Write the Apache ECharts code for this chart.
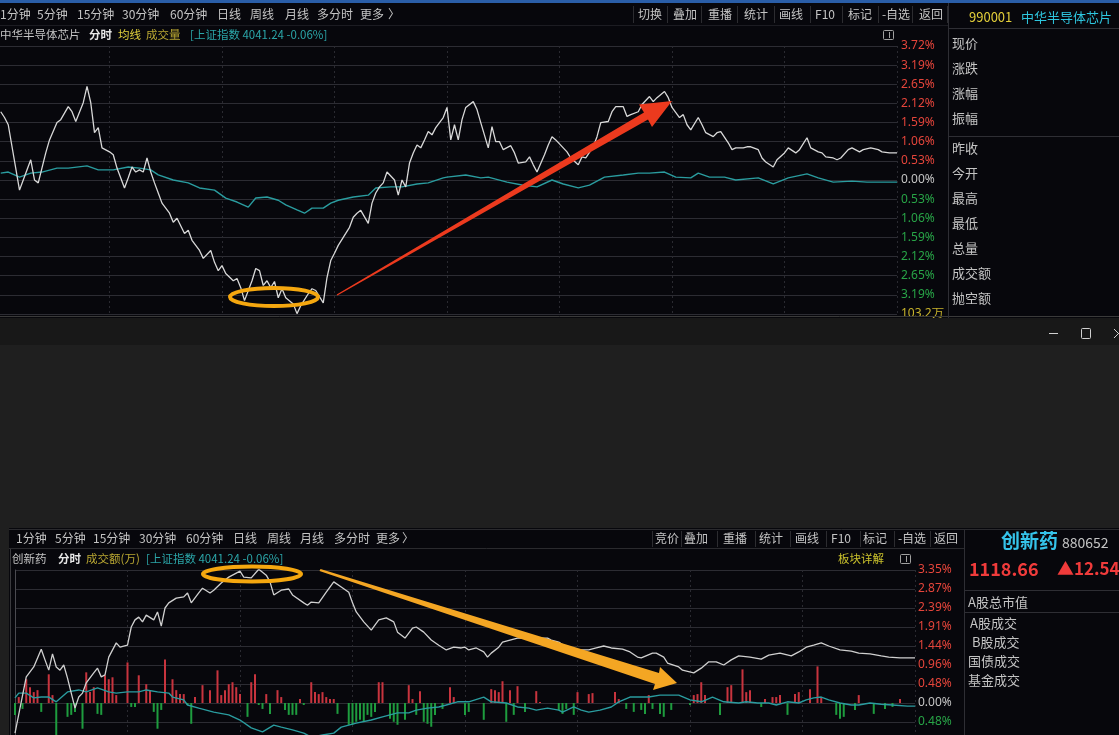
<!DOCTYPE html>
<html>
<head>
<meta charset="utf-8">
<title>分时走势</title>
<script src="https://cdn.jsdelivr.net/npm/echarts@6/dist/echarts.min.js"></script>
<style>
  html, body { margin: 0; padding: 0; background: #1e1e1e; }
  #main { width: 1119px; height: 735px; }
</style>
</head>
<body>
<div id="main"></div>
<script>
// 上图：中华半导体芯片 分时（分钟序号, 涨跌幅 %）
const topMin = [1,2,3,6,7,9,10,11,13,14, 16,17,19,20,21,23,24,25,26,27, 28,30,31,32,34,35,36,37,38,39,
  40,41,42,43,44,46,47,48,50,51, 52,54,55,57,58,59,60,61,63,64, 65,66,68,69,70,71,72,73,74,75,
  76,77,79,80,81,83,84,85,87,88, 89,90,91,93,94,95,96,97,99,100, 101,102,103,104,106,107,108,109,110,111,
  112,113,114,115,116,117,119,120,121,122, 123,124,125,127,128,129,131,132,133,134, 135,137,138,139,141,142,143,144,146,147,
  148,149,151,152,153,155,156,157,159,160, 161,163,164,165,167,168,169,171,172,174, 175,176,178,179,180,182,183,184,185,187,
  188,189,191,192,193,195,196,197,199,200, 201,203,204,205,207,208,210,211,213,214, 216,217,219,220,221,223,224,225,227,228,
  230,231,233,235,236,238,240];
const topPct = [1.89,1.73,1.53,-0.28,0.00,0.56,0.00,-0.08,0.75,1.11, 1.59,1.67,2.03,1.89,1.62,2.14,2.59,2.14,1.31,1.45,
  0.89,0.78,0.70,0.33,-0.22,0.06,0.36,0.22,0.28,0.22, 0.61,0.22,-0.08,-0.36,-0.64,-0.92,-1.17,-1.06,-1.48,-1.39,
  -1.67,-1.95,-2.17,-1.95,-2.28,-2.51,-2.37,-2.59,-2.79,-2.73, -2.98,-3.34,-2.79,-2.45,-2.51,-2.92,-2.79,-2.98,-2.81,-3.26,
  -3.01,-3.26,-3.43,-3.70,-3.48,-3.15,-3.01,-3.06,-3.40,-2.70, -2.23,-2.03,-1.81,-1.48,-1.31,-1.03,-0.92,-0.84,-1.20,-0.64,
  -0.36,-0.19,-0.08,0.22,0.00,-0.42,0.00,-0.19,0.47,0.75, 0.97,0.89,1.11,1.34,1.25,1.45,1.73,2.01,1.11,1.53,
  1.11,1.67,2.01,2.17,1.95,1.59,0.89,1.48,1.06,1.06, 0.84,0.95,0.75,0.47,0.50,0.64,0.42,0.22,0.70,0.97,
  1.20,1.11,0.89,0.78,0.61,0.42,0.64,0.61,0.92,1.20, 1.59,1.62,1.89,2.03,2.03,1.76,1.81,1.89,2.09,2.31,
  2.17,2.28,2.45,2.28,2.01,1.73,1.81,1.53,1.39,1.73, 1.53,1.31,1.20,1.31,1.34,1.03,0.84,0.89,0.89,0.92,
  0.92,0.84,0.61,0.50,0.36,0.56,0.75,0.89,0.75,0.84, 1.17,0.89,0.78,0.75,0.64,0.61,0.56,0.61,0.84,0.89,
  0.78,0.84,0.89,0.84,0.78,0.75,0.75];
const topAvgMin = [1,3,6,9,12,16,19,24,27,31, 35,38,41,43,47,51,54,58,61,64, 67,69,72,75,77,80,82,84,87,89,
  91,95,99,101,105,108,112,115,119,120, 125,129,131,136,140,144,148,151,155,158, 162,167,171,174,178,181,185,187,190,194,
  197,203,207,211,216,219,223,228,232,236, 240];
const topAvgPct = [0.19,0.22,0.08,0.19,0.22,0.33,0.33,0.39,0.28,0.28, 0.36,0.33,0.28,0.14,0.00,-0.08,-0.22,-0.28,-0.50,-0.61,
  -0.75,-0.50,-0.47,-0.56,-0.69,-0.83,-0.92,-0.78,-0.78,-0.64, -0.56,-0.47,-0.42,-0.22,-0.19,-0.19,-0.11,-0.08,0.06,0.08,
  0.14,0.06,0.08,-0.06,-0.14,-0.19,0.00,-0.11,-0.22,-0.14, 0.08,0.14,0.19,0.19,0.22,0.08,0.06,0.19,0.08,0.08,
  0.00,0.06,-0.11,0.06,0.17,0.06,-0.06,-0.03,-0.06,-0.06, -0.06];
// 右侧刻度（从下往上）
const topTicks = ['103.2万','3.19%','2.65%','2.12%','1.59%','1.06%','0.53%','0.00%','0.53%','1.06%','1.59%','2.12%','2.65%','3.19%','3.72%'];

// 下图：创新药 分时
const botMin = [0,3,5,7,8,9,10,11,12,13, 14,15,16,17,18,19,21,22,23,24, 25,27,28,30,31,32,33,34,35,37,
  38,39,40,41,43,45,46,47,49,50, 52,53,55,57,58,60,61,63,65,67, 68,69,71,73,74,77,78,79,81,83,
  85,87,89,90,91,93,95,97,99,101, 102,104,106,107,109,111,113,115,117,119, 120,121,123,125,126,127,129,130,132,134,
  136,138,139,142,143,145,147,150,153,155, 157,159,162,164,166,167,170,171,173,174, 177,178,181,183,185,187,189,191,193,196,
  199,201,204,207,209,211,213,215,217,220, 223,225,228,231,233,236,240];
const botPct = [-0.76,0.66,0.91,1.36,1.09,0.83,1.24,0.91,0.83,0.96, 0.63,0.25,-0.13,0.15,0.25,0.51,0.76,0.88,0.66,0.71,
  1.16,1.52,1.41,1.46,1.92,2.10,2.17,2.05,2.22,2.10, 2.30,1.94,2.40,2.53,2.65,2.68,2.78,2.53,2.78,2.90,
  2.78,2.85,3.03,3.18,3.23,3.33,3.18,3.16,3.38,3.23, 3.06,2.73,2.85,2.88,2.73,2.53,2.47,2.55,2.53,2.80,
  3.06,2.93,2.80,2.53,2.30,2.05,1.84,2.10,2.15,2.05, 1.79,1.64,1.89,1.92,1.79,1.59,1.46,1.34,1.41,1.39,
  1.41,1.34,1.39,1.29,1.16,1.26,1.41,1.54,1.59,1.64, 1.64,1.67,1.64,1.64,1.59,1.54,1.41,1.34,1.34,1.39,
  1.44,1.39,1.36,1.29,1.16,1.14,1.26,1.26,1.16,1.01, 0.91,0.83,0.76,0.88,1.04,1.04,0.96,1.09,1.19,1.16,
  1.11,1.21,1.26,1.19,1.29,1.41,1.46,1.52,1.44,1.34, 1.31,1.26,1.24,1.19,1.16,1.14,1.14];
const botAvgMin = [0,1,3,5,7,9,11,14,17,19, 22,25,27,30,33,35,38,41,42,45, 46,49,53,57,60,63,66,69,71,74,
  77,79,82,85,87,91,95,98,102,105, 107,110,113,115,118,121,125,127,131,134, 137,139,142,145,146,149,151,153,156,159,
  161,164,167,169,172,175,177,180,183,186, 189,193,195,198,201,203,206,209,211,213, 215,217,220,223,225,228,231,234,238,240];
const botAvgPct = [0.13,0.25,0.25,0.13,0.15,0.15,0.03,0.28,0.33,0.28, 0.38,0.28,0.25,0.28,0.28,0.33,0.28,0.25,0.15,0.08,
  -0.05,-0.13,-0.23,-0.30,-0.43,-0.63,-0.73,-0.56,-0.61,-0.68, -0.76,-0.86,-0.81,-0.76,-0.61,-0.51,-0.43,-0.35,-0.25,-0.25,
  -0.18,-0.13,-0.10,-0.05,0.03,0.03,0.15,0.03,0.00,-0.10, -0.13,-0.18,-0.13,-0.18,-0.23,-0.10,-0.18,-0.23,-0.18,-0.10,
  0.03,0.15,0.15,0.15,0.20,0.20,0.20,0.08,0.03,0.15, 0.03,0.00,0.03,0.00,0.00,-0.05,0.03,0.00,0.08,0.13,
  0.15,0.08,0.00,-0.05,-0.05,0.00,-0.03,-0.05,-0.08,-0.08];
const botTicks = ['0.96%','0.48%','0.00%','0.48%','0.96%','1.44%','1.91%','2.39%','2.87%','3.35%'];

// 成交额(万)：红柱(正) / 绿柱(负)
const upMin = [1,3,4,5,6,9,10,19,20,21, 24,25,26,27,30,33,35,36,40,42, 43,44,45,48,50,52,54,55,56,57,
  58,59,60,63,64,67,70,71,76,79, 80,81,82,83,84,85,97,98,105,106, 108,116,117,127,128,129,130,132,134,139,
  140,150,153,154,160,161,169,181,182,183, 184,190,191,194,195,196,200,202,203,204, 208,209,212,214,215,225,236];
const upAmt = [150,600,400,275,325,725,200,775,275,400, 700,600,650,200,1025,700,475,325,1100,600,
  325,225,225,150,450,325,825,200,325,475, 525,400,225,525,725,225,325,150,100,525,
  275,225,275,150,100,100,525,525,450,100, 300,400,150,350,325,275,550,325,425,300,
  25,275,225,250,275,100,200,200,225,525, 200,400,450,850,275,325,100,150,150,200, 225,275,350,925,150,200,100];
const downMin = [0,2,7,11,14,15,16,18,22,23, 31,32,37,38,39,46,47,62,65,66, 68,72,73,74,75,77,86,89,90,91,
  92,93,94,95,96,100,101,102,104,107, 109,110,111,112,114,120,121,125,131,133, 136,145,146,147,149,163,165,167,168,170,
  172,173,175,180,188,199,206,219,220,221, 224,229,232,234];
const downAmt = [-300,-150,-225,-875,-350,-300,-225,-650,-275,-300, -100,-100,-225,-650,-175,-50,-525,-350,-50,-150,
  -275,-175,-300,-300,-300,-50,-275,-550,-550,-475, -425,-475,-300,-350,-225,-400,-475,-550,-425,-300,
  -475,-525,-600,-300,-150,-300,-225,-425,-475,-300, -225,-175,-275,-150,-300,-150,-225,-175,-275,-150,
  -275,-350,-175,-50,-300,-100,-300,-300,-400,-350, -175,-275,-150,-100];

const FONT = '"Noto Sans CJK SC", "Noto Sans", sans-serif';
const RED = '#e5453b', GREEN = '#28a447', GREY = '#c4c4c4', YEL = '#c9b42c', TEAL = '#2ba5a8';
const pair = (xs, ys) => xs.map((x, i) => [x, ys[i]]);

// ---------- 界面元素 ----------
const g = [];
function txt(x, y, s, color, size, bold, align) {
  g.push({
    type: 'text', x: x, y: y, z: 50, silent: true,
    style: {
      text: s, fill: color, font: (bold ? 'bold ' : '') + size + 'px ' + FONT,
      align: align || 'left', textAlign: align || 'left',
      verticalAlign: 'middle', textVerticalAlign: 'middle'
    }
  });
}
function rect(x, y, w, h, fill, z) {
  g.push({ type: 'rect', z: z || 10, silent: true, shape: { x: x, y: y, width: w, height: h }, style: { fill: fill } });
}
function line(x1, y1, x2, y2, color, w, z) {
  g.push({ type: 'line', z: z || 20, silent: true, shape: { x1: x1, y1: y1, x2: x2, y2: y2 }, style: { stroke: color, lineWidth: w || 1 } });
}
function box(x, y, w, h, color) {
  g.push({ type: 'rect', z: 20, silent: true, shape: { x: x, y: y, width: w, height: h, r: 1 }, style: { fill: 'none', stroke: color, lineWidth: 1 } });
}

// 中间灰色区域 + 窗口标题栏
rect(0, 318, 1119, 210, '#1f1f1f');
rect(0, 318, 1119, 27, '#181818');
rect(0, 528, 9, 207, '#1f1f1f');
line(0, 316.5, 1119, 316.5, '#3a3a3a', 1);
line(1049, 333.5, 1058, 333.5, '#d0d0d0', 1);
box(1081.5, 328.5, 9, 10, '#d0d0d0');
line(1114, 329, 1119, 334, '#d0d0d0', 1);
line(1114, 338, 1119, 333, '#d0d0d0', 1);

// 上面板
rect(0, 0, 1119, 3, '#2a5ea8');
line(0, 25.5, 948, 25.5, '#1c1c22', 1);
line(948.5, 3, 948.5, 318, '#2e2e34', 1);
line(948, 28.5, 1119, 28.5, '#2e2e34', 1);
line(948, 136.5, 1119, 136.5, '#2e2e34', 1);
[['1分钟', 0], ['5分钟', 37], ['15分钟', 77], ['30分钟', 122], ['60分钟', 170], ['日线', 217], ['周线', 250],
 ['月线', 285], ['多分时', 317], ['更多', 360], ['〉', 388]].forEach(t => txt(t[1], 14, t[0], GREY, 12));
[633, 667, 701, 737, 774, 810, 842, 878, 912, 947].forEach(x => line(x + 0.5, 6, x + 0.5, 23, '#2c2c30', 1));
[['切换', 650], ['叠加', 685], ['重播', 720], ['统计', 756], ['画线', 791], ['F10', 825], ['标记', 860], ['-自选', 896], ['返回', 931]]
  .forEach(t => txt(t[1], 14, t[0], GREY, 12, false, 'center'));
txt(969, 17, '990001', '#e3cf3a', 13);
txt(1021, 17, '中华半导体芯片', '#2ec6df', 13);
txt(0, 35, '中华半导体芯片', GREY, 11.5);
txt(89, 35, '分时', '#e6e6e6', 11.5, true);
txt(118, 35, '均线', '#e2d23c', 11.5);
txt(146, 35, '成交量', '#b9a732', 11.5);
txt(190, 35, '[上证指数 4041.24 -0.06%]', TEAL, 11.5);
box(883.5, 30.5, 10, 9, '#a0a0a0');
line(889.5, 32, 889.5, 38, '#a0a0a0', 1);
[['现价', 43], ['涨跌', 68], ['涨幅', 93], ['振幅', 118], ['昨收', 148], ['今开', 173], ['最高', 198],
 ['最低', 223], ['总量', 248], ['成交额', 273], ['抛空额', 298]].forEach(t => txt(952, t[1], t[0], GREY, 13));

// 下面板
line(9, 529.5, 1119, 529.5, '#2a2a2e', 1);
line(9, 548.5, 964, 548.5, '#2a2a2e', 1);
line(10.5, 549, 10.5, 735, '#3a3a3e', 1);
line(964.5, 530, 964.5, 735, '#2e2e34', 1);
line(965, 590.5, 1119, 590.5, '#2e2e34', 1);
line(965, 612.5, 1119, 612.5, '#2e2e34', 1);
[['1分钟', 16], ['5分钟', 55], ['15分钟', 93], ['30分钟', 139], ['60分钟', 186], ['日线', 233], ['周线', 267],
 ['月线', 300], ['多分时', 334], ['更多', 376], ['〉', 402]].forEach(t => txt(t[1], 538, t[0], GREY, 12));
[652, 681, 717, 755, 790, 826, 860, 894, 930].forEach(x => line(x + 0.5, 531, x + 0.5, 547, '#2c2c30', 1));
[['竞价', 667], ['叠加', 696], ['重播', 735], ['统计', 771], ['画线', 807], ['F10', 841], ['标记', 875], ['-自选', 912], ['返回', 946]]
  .forEach(t => txt(t[1], 538, t[0], GREY, 12, false, 'center'));
txt(1001, 541, '创新药', '#35c3e9', 19, true);
txt(1062, 543, '880652', GREY, 14);
txt(12, 559, '创新药', GREY, 11.5);
txt(58, 559, '分时', '#e6e6e6', 11.5, true);
txt(86, 559, '成交额(万)', '#b9a732', 11.5);
txt(146, 559, '[上证指数 4041.24 -0.06%]', TEAL, 11.5);
txt(838, 559, '板块详解', '#c9c02c', 11.5);
box(900.5, 554.5, 10, 9, '#a0a0a0');
line(906.5, 556, 906.5, 562, '#a0a0a0', 1);
txt(969, 569, '1118.66', '#f03b3b', 18, true);
txt(1057, 569, '▲12.54', '#f03b3b', 17, true);
txt(968, 602, 'A股总市值', GREY, 13);
txt(970, 623, 'A股成交', GREY, 13);
txt(972, 642, 'B股成交', GREY, 13);
txt(968, 661, '国债成交', GREY, 13);
txt(968, 680, '基金成交', GREY, 13);

// 标注：椭圆与箭头
g.push({ type: 'ellipse', z: 100, silent: true, shape: { cx: 274, cy: 297, rx: 44, ry: 9 },
  style: { fill: 'none', stroke: '#f5a70f', lineWidth: 4 } });
g.push({ type: 'ellipse', z: 100, silent: true, shape: { cx: 252, cy: 574, rx: 49, ry: 7.5 },
  style: { fill: 'none', stroke: '#f5a70f', lineWidth: 4 } });
g.push({ type: 'polygon', z: 100, silent: true,
  shape: { points: [[337.3, 295.4], [648, 119.5], [652, 127], [672, 101], [639, 104.5], [644, 112.5], [336.7, 294.6]] },
  style: { fill: '#ec3a1e' } });
g.push({ type: 'polygon', z: 100, silent: true,
  shape: { points: [[319.5, 571], [655, 684], [653, 690], [677, 683], [660, 667], [659, 673], [320.5, 569]] },
  style: { fill: '#f4a623' } });

// ---------- 图表 ----------
const chart = echarts.init(document.getElementById('main'));
const splitH = { show: true, lineStyle: { color: '#2c2c33', width: 1 } };
const splitV = { show: true, lineStyle: { color: '#2a2a31', width: 1, type: [2, 3] } };
const topCls = i => (i === 0 ? 'y' : i < 7 ? 'g' : i === 7 ? 'w' : 'r');
const botCls = i => (i < 2 ? 'g' : i === 2 ? 'w' : 'r');
const rich = { r: { color: RED }, g: { color: GREEN }, w: { color: GREY }, y: { color: YEL } };

chart.setOption({
  backgroundColor: '#07070c',
  animation: false,
  graphic: { elements: g },
  grid: [
    { left: -3, top: 46, width: 900, height: 268, outerBoundsMode: 'none' },
    { left: 15, top: 570, width: 900, height: 171, outerBoundsMode: 'none' }
  ],
  xAxis: [0, 1].map(i => ({
    type: 'value', gridIndex: i, min: 0, max: 240, interval: 30,
    axisLine: { show: false }, axisTick: { show: false }, axisLabel: { show: false }, splitLine: splitV
  })),
  yAxis: [
    {
      type: 'value', gridIndex: 0, position: 'right', min: -3.71, max: 3.71, interval: 0.53,
      axisLine: { show: true, lineStyle: { color: '#4a4a50' } }, axisTick: { show: false }, splitLine: splitH,
      axisLabel: { margin: 4, fontSize: 12, fontFamily: 'Noto Sans', rich: rich,
        formatter: (v, i) => '{' + topCls(i) + '|' + topTicks[i] + '}' }
    },
    {
      type: 'value', gridIndex: 1, position: 'right', min: -0.96, max: 3.36, interval: 0.48,
      axisLine: { show: true, lineStyle: { color: '#4a4a50' } }, axisTick: { show: false }, splitLine: splitH,
      axisLabel: { margin: 3, fontSize: 12, fontFamily: 'Noto Sans', rich: rich,
        formatter: (v, i) => '{' + botCls(i) + '|' + botTicks[i] + '}' }
    },
    { type: 'value', gridIndex: 1, min: -960, max: 3360, show: false, splitLine: { show: false } }
  ],
  series: [
    { type: 'line', xAxisIndex: 0, yAxisIndex: 0, data: pair(topAvgMin, topAvgPct), symbol: 'none', silent: true,
      lineStyle: { color: '#2a9c9f', width: 1.4 }, z: 3 },
    { type: 'line', xAxisIndex: 0, yAxisIndex: 0, data: pair(topMin, topPct), symbol: 'none', silent: true,
      lineStyle: { color: '#d8d8d8', width: 1.3 }, z: 4 },
    { type: 'bar', xAxisIndex: 1, yAxisIndex: 2, data: pair(upMin, upAmt), barWidth: 2, barGap: '-100%', silent: true,
      itemStyle: { color: '#c8343e' }, z: 2 },
    { type: 'bar', xAxisIndex: 1, yAxisIndex: 2, data: pair(downMin, downAmt), barWidth: 2, barGap: '-100%', silent: true,
      itemStyle: { color: '#1e9c3e' }, z: 2 },
    { type: 'line', xAxisIndex: 1, yAxisIndex: 1, data: pair(botAvgMin, botAvgPct), symbol: 'none', silent: true,
      lineStyle: { color: '#2a9c9f', width: 1.4 }, z: 3 },
    { type: 'line', xAxisIndex: 1, yAxisIndex: 1, data: pair(botMin, botPct), symbol: 'none', silent: true,
      lineStyle: { color: '#d0d0d0', width: 1.3 }, z: 4 }
  ]
});
</script>
</body>
</html>
